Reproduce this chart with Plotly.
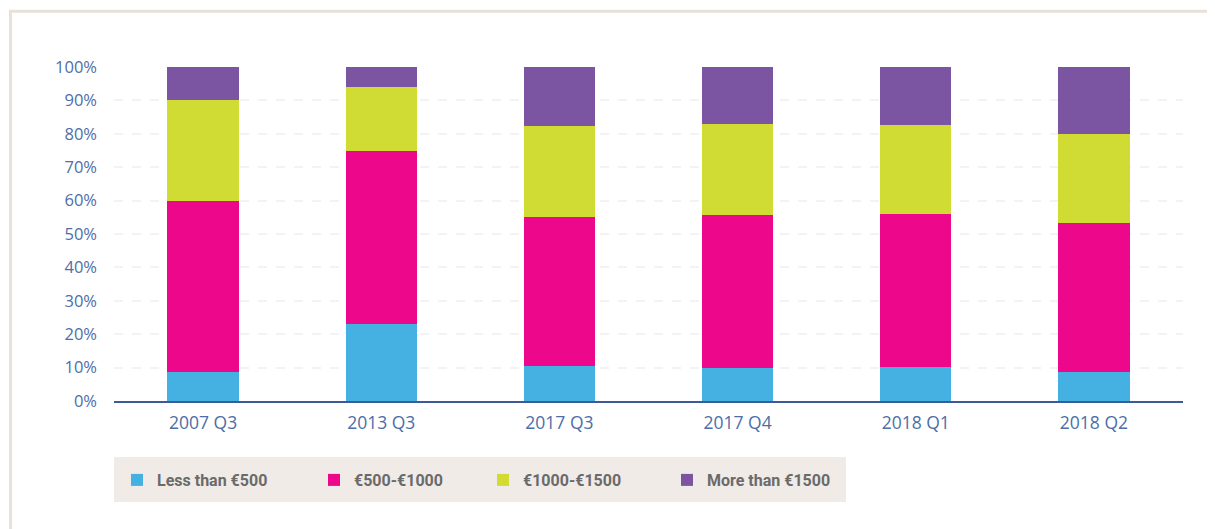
import plotly.graph_objects as go

categories = ["2007 Q3", "2013 Q3", "2017 Q3", "2017 Q4", "2018 Q1", "2018 Q2"]
series_names = ["Less than €500", "€500-€1000", "€1000-€1500", "More than €1500"]
less_500 = [8.8, 23.0, 10.5, 9.9, 10.2, 8.7]
eur_500_1000 = [51.2, 52.0, 44.5, 45.7, 45.7, 44.5]
eur_1000_1500 = [30.2, 19.1, 27.2, 27.4, 26.8, 26.6]
more_1500 = [9.8, 5.9, 17.8, 17.0, 17.3, 20.2]
colors = ["#45b0e2", "#ec078b", "#d0dc33", "#7b54a2"]
y_ticks = [0, 10, 20, 30, 40, 50, 60, 70, 80, 90, 100]
y_tick_labels = [f"{v}%" for v in y_ticks]

# page body has an 8px default margin; figure is sized to fill the rest of the window
OFF = 8
W, H = 1215 - OFF, 529 - OFF
# plot area in screenshot pixels: x 114..1183, y 67..401
L, R, T, B = 114 - OFF, 1215 - 1183, 67 - OFF, 529 - 401
pw, ph = W - L - R, H - T - B

def px_x(px):
    return (px - OFF - L) / pw

def px_y(py):
    return (OFF + T + ph - py) / ph

legend_names = ["legend", "legend2", "legend3", "legend4"]
legend_x_px = [117, 314, 483, 667]

fig = go.Figure()
for name, vals, col, lg in zip(series_names, [less_500, eur_500_1000, eur_1000_1500, more_1500], colors, legend_names):
    fig.add_trace(go.Bar(x=categories, y=vals, name=name, legend=lg,
                         marker=dict(color=col, line=dict(width=0)),
                         hovertemplate="%{x}: %{y}%<extra>" + name + "</extra>"))

border_col = "#e7e1d9"
shapes = [
    dict(type="rect", xref="paper", yref="paper", x0=px_x(114), x1=px_x(846), y0=px_y(502), y1=px_y(457),
         fillcolor="#f0ebe7", line=dict(width=0), layer="below"),
    dict(type="line", xref="paper", yref="paper", x0=px_x(9), x1=px_x(1240), y0=px_y(11.3), y1=px_y(11.3),
         line=dict(color=border_col, width=3)),
    dict(type="line", xref="paper", yref="paper", x0=px_x(10.5), x1=px_x(10.5), y0=px_y(10), y1=px_y(560),
         line=dict(color=border_col, width=3)),
]

legend_font = dict(family="Roboto, sans-serif", size=16, color="#6a6a6a", weight="bold")
legends = {}
for lg, lx in zip(legend_names, legend_x_px):
    legends[lg] = dict(
        orientation="h",
        x=px_x(lx), xanchor="left",
        y=px_y(480), yanchor="middle",
        bgcolor="rgba(0,0,0,0)",
        font=legend_font,
    )

fig.update_layout(
    barmode="stack",
    bargap=0.6,
    width=W, height=H,
    margin=dict(l=L, r=R, t=T, b=B, pad=0),
    paper_bgcolor="white",
    plot_bgcolor="white",
    font=dict(family="Open Sans, sans-serif", color="#4d6ea8"),
    shapes=shapes,
    showlegend=True,
    xaxis=dict(
        showgrid=False,
        showline=True, linecolor="#3b5a9a", linewidth=2,
        ticks="", tickfont=dict(size=17.5, color="#4d6ea8"),
        ticklabelstandoff=5,
    ),
    yaxis=dict(
        range=[0, 100],
        tickvals=y_ticks, ticktext=y_tick_labels,
        showgrid=True, gridcolor="#f3f3f3", gridwidth=1.5, griddash="dash",
        zeroline=False, showline=False,
        ticks="", tickfont=dict(size=16.5, color="#4d6ea8"),
        ticklabelstandoff=16,
    ),
    **legends,
)

fig.write_html("out.html")
